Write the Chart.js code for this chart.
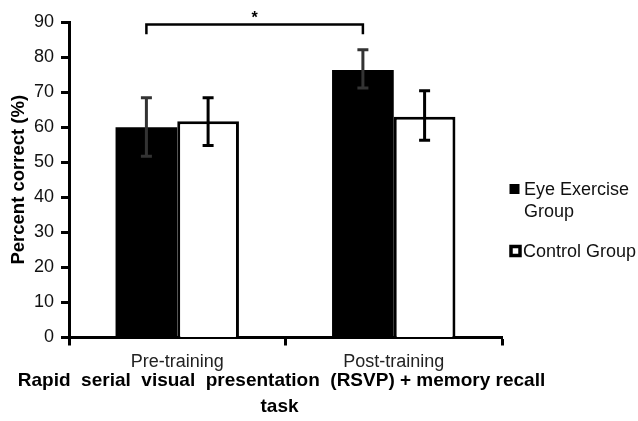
<!DOCTYPE html>
<html>
<head>
<meta charset="utf-8">
<script src="https://cdn.jsdelivr.net/npm/chart.js@4"></script>
<style>
  html, body { margin: 0; padding: 0; background: #fff; }
  #wrap { width: 638px; height: 421px; }
</style>
</head>
<body>
<div id="wrap"><canvas id="c" width="638" height="421"></canvas></div>
<script>
const categories = ['Pre-training', 'Post-training'];
const seriesNames = ['Eye Exercise Group', 'Control Group'];
const legendLines = [['Eye Exercise', 'Group'], ['Control Group']];
const eyeValues = [60.0, 76.3];
const controlValues = [61.7, 63.0];
const eyeErrLow = [51.7, 71.2];
const eyeErrHigh = [68.4, 82.1];
const controlErrLow = [54.8, 56.3];
const controlErrHigh = [68.4, 70.4];
const yMin = 0, yMax = 90, yStep = 10;
const yTitle = 'Percent correct (%)';
const xTitle = ['Rapid  serial  visual  presentation  (RSVP) + memory recall', 'task'];
const sigLabel = '*';
const bracketY = 89.3, bracketLegY = 86.5;

const FONT = "'Liberation Sans', Arial, sans-serif";

const overlay = {
  id: 'overlay',
  afterDatasetsDraw(chart) {
    const ctx = chart.ctx;
    const y = chart.scales.y;
    const xs = chart.scales.x;
    const sets = [
      {low: eyeErrLow, high: eyeErrHigh, color: '#333333'},
      {low: controlErrLow, high: controlErrHigh, color: '#000000'}
    ];
    sets.forEach((s, di) => {
      const meta = chart.getDatasetMeta(di);
      meta.data.forEach((bar, i) => {
        const x = bar.x;
        const yl = y.getPixelForValue(s.low[i]);
        const yh = y.getPixelForValue(s.high[i]);
        ctx.save();
        ctx.strokeStyle = s.color;
        ctx.lineWidth = 3;
        ctx.beginPath();
        ctx.moveTo(x, yl); ctx.lineTo(x, yh);
        ctx.moveTo(x - 5.5, yl); ctx.lineTo(x + 5.5, yl);
        ctx.moveTo(x - 5.5, yh); ctx.lineTo(x + 5.5, yh);
        ctx.stroke();
        ctx.restore();
      });
    });
    // significance bracket
    const m = chart.getDatasetMeta(0);
    const x1 = m.data[0].x, x2 = m.data[1].x;
    const by = y.getPixelForValue(bracketY);
    const ly = y.getPixelForValue(bracketLegY);
    ctx.save();
    ctx.strokeStyle = '#000';
    ctx.lineWidth = 2.5;
    ctx.beginPath();
    ctx.moveTo(x1, ly); ctx.lineTo(x1, by); ctx.lineTo(x2, by); ctx.lineTo(x2, ly);
    ctx.stroke();
    ctx.fillStyle = '#000';
    ctx.font = 'bold 16px ' + FONT;
    ctx.textAlign = 'center';
    ctx.textBaseline = 'middle';
    ctx.fillText(sigLabel, (x1 + x2) / 2, by - 6);
    ctx.restore();
    // x axis title (two lines, drawn without width clamp)
    ctx.save();
    ctx.font = 'bold 19px ' + FONT;
    ctx.fillStyle = '#000';
    ctx.textAlign = 'center';
    ctx.textBaseline = 'middle';
    const cx = (xs.left + xs.right) / 2 - 4;
    ctx.fillText(xTitle[0], cx, 380.5);
    ctx.fillText(xTitle[1], cx - 2, 406.5);
    ctx.restore();
    // legend
    ctx.save();
    ctx.font = '18px ' + FONT;
    ctx.textAlign = 'left';
    ctx.textBaseline = 'middle';
    ctx.fillStyle = '#000';
    ctx.fillRect(509.5, 184, 10, 10);
    ctx.fillStyle = '#111';
    ctx.fillText(legendLines[0][0], 524, 190);
    ctx.fillText(legendLines[0][1], 524, 212.5);
    ctx.fillStyle = '#fff';
    ctx.strokeStyle = '#000';
    ctx.lineWidth = 3.5;
    ctx.strokeRect(511, 246.5, 9, 9);
    ctx.fillStyle = '#111';
    ctx.fillText(legendLines[1][0], 523, 252);
    ctx.restore();
  }
};

new Chart(document.getElementById('c'), {
  type: 'bar',
  data: {
    labels: categories,
    datasets: [
      {label: seriesNames[0], data: eyeValues, backgroundColor: '#000', borderColor: '#000', borderWidth: 0,
       categoryPercentage: 0.57, barPercentage: 1.0},
      {label: seriesNames[1], data: controlValues, backgroundColor: '#fff', borderColor: '#000', borderWidth: 3,
       categoryPercentage: 0.57, barPercentage: 1.0}
    ]
  },
  options: {
    responsive: false,
    animation: false,
    layout: {padding: {left: 0, right: 136, top: 22, bottom: 0}},
    plugins: {legend: {display: false}, tooltip: {enabled: false}},
    scales: {
      x: {
        grid: {display: true, offset: true, drawOnChartArea: false, tickLength: 8, tickWidth: 3, color: '#000'},
        border: {display: true, width: 3, color: '#000'},
        ticks: {color: '#222', font: {family: FONT, size: 18}, padding: 6, maxRotation: 0},
        title: {display: false},
        afterFit(s) { s.height = 83.5; }
      },
      y: {
        min: yMin, max: yMax,
        grid: {drawOnChartArea: false, tickLength: 8, tickWidth: 3, color: '#000'},
        border: {display: true, width: 3, color: '#000'},
        ticks: {stepSize: yStep, color: '#111', font: {family: FONT, size: 18}, padding: 7},
        title: {display: true, text: yTitle, color: '#000', font: {family: FONT, size: 18.5, weight: 'bold'}, padding: {top: 8, bottom: 0}},
        afterFit(s) { s.width = 69; }
      }
    }
  },
  plugins: [overlay]
});
</script>
</body>
</html>
